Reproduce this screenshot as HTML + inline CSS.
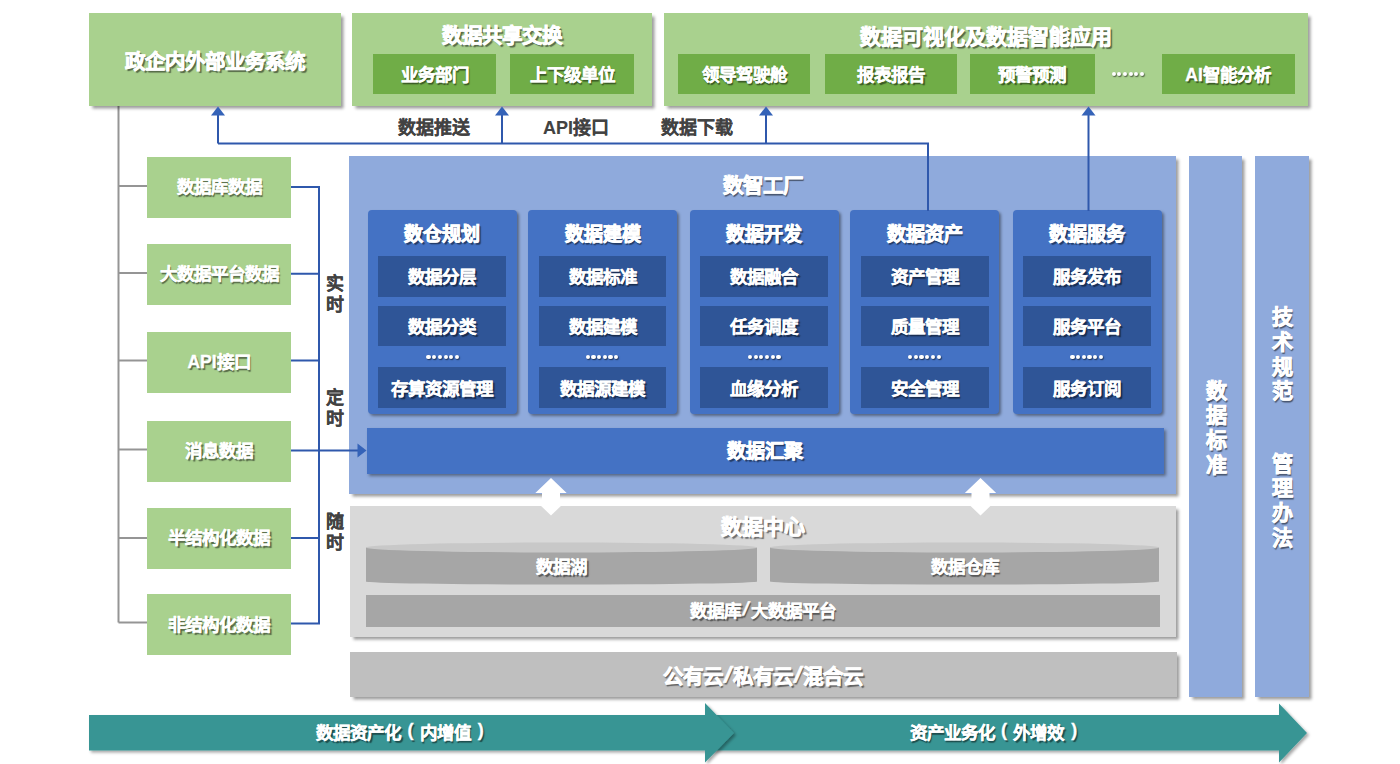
<!DOCTYPE html>
<html lang="zh-CN">
<head>
<meta charset="utf-8">
<style>
html,body{margin:0;padding:0;}
body{width:1400px;height:764px;position:relative;overflow:hidden;background:#fff;font-family:"Liberation Sans",sans-serif;font-weight:bold;}
.a{position:absolute;box-sizing:border-box;}
.c{display:flex;align-items:center;justify-content:center;white-space:nowrap;}
.w{color:#fff;text-shadow:1.5px 1.8px 1px rgba(0,0,0,0.5);-webkit-text-stroke:0.8px #fff;}
.sh{box-shadow:2.5px 2.5px 3px rgba(0,0,0,0.4);}
.lg{background:#A9D18E;}
.dg{background:#70AD47;}
.t20{font-size:20.5px;}
.t17{font-size:17.5px;-webkit-text-stroke-width:0.35px;padding-bottom:3px;}
.it.t17,.dg.t17{padding-bottom:1px;}
.t19{font-size:19px;}
.lbl{color:#424242;font-size:18px;-webkit-text-stroke:0.1px #424242;}
.col{background:#4472C4;border-radius:4px;box-shadow:2px 2px 3px rgba(0,0,0,0.4);}
.it{background:#2F5597;}
.sl1{display:inline-block;font-size:19px;padding:0 2.2px;transform:skewX(-14deg);}
.sl2{display:inline-block;font-size:22px;padding:0 2px;transform:skewX(-14deg);}
.p1{display:inline-block;width:18.5px;text-align:center;font-size:18px;position:relative;top:-1px;}
.p2{display:inline-block;width:13px;text-align:right;font-size:18px;position:relative;top:-1px;}
.vt{line-height:21px;text-align:center;}
.vt2{font-size:21px;line-height:24.7px;text-align:center;}
.dot{width:4.2px;height:4.2px;border-radius:50%;background:#fff;box-shadow:0.8px 1px 1.2px rgba(0,0,0,0.6);}
</style>
</head>
<body>
<!-- connectors (svg) -->
<svg class="a" style="left:0;top:0" width="1400" height="764">
  <g stroke="#959595" stroke-width="2" fill="none">
    <path d="M118.5 106 V622.5"/>
    <path d="M118.5 186 H147 M118.5 273 H147 M118.5 360.5 H147 M118.5 449.5 H147 M118.5 538 H147 M118.5 622.5 H147"/>
  </g>
</svg>

<!-- top green boxes -->
<div class="a lg sh c w t20" style="left:89px;top:13px;width:252px;height:93px;">政企内外部业务系统</div>
<div class="a lg sh" style="left:352px;top:13px;width:300px;height:93px;"></div>
<div class="a c w t20" style="left:352px;top:22px;width:300px;height:24px;">数据共享交换</div>
<div class="a dg c w t17" style="left:373px;top:53.8px;width:123px;height:40.4px;">业务部门</div>
<div class="a dg c w t17" style="left:510px;top:53.8px;width:124px;height:40.4px;">上下级单位</div>

<div class="a lg sh" style="left:664px;top:13px;width:644px;height:93px;"></div>
<div class="a c w t20" style="left:664px;top:23px;width:644px;height:24px;font-size:21px;">数据可视化及数据智能应用</div>
<div class="a dg c w t17" style="left:678px;top:53.8px;width:132px;height:40.4px;">领导驾驶舱</div>
<div class="a dg c w t17" style="left:825px;top:53.8px;width:132px;height:40.4px;">报表报告</div>
<div class="a dg c w t17" style="left:970px;top:53.8px;width:124.5px;height:40.4px;">预警预测</div>
<div class="a dg c w t17" style="left:1161.5px;top:53.8px;width:133px;height:40.4px;">AI智能分析</div>

<!-- left source boxes -->
<div class="a lg c w t17" style="left:147px;top:156.5px;width:144px;height:61px;">数据库数据</div>
<div class="a lg c w t17" style="left:147px;top:243.5px;width:144px;height:61px;">大数据平台数据</div>
<div class="a lg c w t17" style="left:147px;top:331.5px;width:144px;height:61px;">API接口</div>
<div class="a lg c w t17" style="left:147px;top:420.5px;width:144px;height:61px;">消息数据</div>
<div class="a lg c w t17" style="left:147px;top:507.5px;width:144px;height:61px;">半结构化数据</div>
<div class="a lg c w t17" style="left:147px;top:594px;width:144px;height:61px;">非结构化数据</div>

<!-- blue factory region -->
<div class="a sh" style="left:349px;top:155.5px;width:827px;height:338px;background:#8FAADC;"></div>
<div class="a c w t20" style="left:349px;top:172px;width:827px;height:24px;">数智工厂</div>

<div class="a col" style="left:367.5px;top:210.3px;width:149px;height:204px;"></div>
<div class="a c w t19" style="left:367.5px;top:220px;width:149px;height:24px;">数仓规划</div>
<div class="a it c w t17" style="left:378.25px;top:256px;width:127.5px;height:40.5px;">数据分层</div>
<div class="a it c w t17" style="left:378.25px;top:305.7px;width:127.5px;height:40.5px;">数据分类</div>
<div class="a it c w t17" style="left:378.25px;top:367px;width:127.5px;height:41px;">存算资源管理</div>
<div class="a col" style="left:528px;top:210.3px;width:149px;height:204px;"></div>
<div class="a c w t19" style="left:528px;top:220px;width:149px;height:24px;">数据建模</div>
<div class="a it c w t17" style="left:538.75px;top:256px;width:127.5px;height:40.5px;">数据标准</div>
<div class="a it c w t17" style="left:538.75px;top:305.7px;width:127.5px;height:40.5px;">数据建模</div>
<div class="a it c w t17" style="left:538.75px;top:367px;width:127.5px;height:41px;">数据源建模</div>
<div class="a col" style="left:689.7px;top:210.3px;width:149px;height:204px;"></div>
<div class="a c w t19" style="left:689.7px;top:220px;width:149px;height:24px;">数据开发</div>
<div class="a it c w t17" style="left:700.45px;top:256px;width:127.5px;height:40.5px;">数据融合</div>
<div class="a it c w t17" style="left:700.45px;top:305.7px;width:127.5px;height:40.5px;">任务调度</div>
<div class="a it c w t17" style="left:700.45px;top:367px;width:127.5px;height:41px;">血缘分析</div>
<div class="a col" style="left:850.3px;top:210.3px;width:149px;height:204px;"></div>
<div class="a c w t19" style="left:850.3px;top:220px;width:149px;height:24px;">数据资产</div>
<div class="a it c w t17" style="left:861.05px;top:256px;width:127.5px;height:40.5px;">资产管理</div>
<div class="a it c w t17" style="left:861.05px;top:305.7px;width:127.5px;height:40.5px;">质量管理</div>
<div class="a it c w t17" style="left:861.05px;top:367px;width:127.5px;height:41px;">安全管理</div>
<div class="a col" style="left:1012.5px;top:210.3px;width:149px;height:204px;"></div>
<div class="a c w t19" style="left:1012.5px;top:220px;width:149px;height:24px;">数据服务</div>
<div class="a it c w t17" style="left:1023.25px;top:256px;width:127.5px;height:40.5px;">服务发布</div>
<div class="a it c w t17" style="left:1023.25px;top:305.7px;width:127.5px;height:40.5px;">服务平台</div>
<div class="a it c w t17" style="left:1023.25px;top:367px;width:127.5px;height:41px;">服务订阅</div>
<div class="a dot" style="left:426.45px;top:354.70px;"></div>
<div class="a dot" style="left:432.15px;top:354.70px;"></div>
<div class="a dot" style="left:437.85px;top:354.70px;"></div>
<div class="a dot" style="left:443.55px;top:354.70px;"></div>
<div class="a dot" style="left:449.25px;top:354.70px;"></div>
<div class="a dot" style="left:454.95px;top:354.70px;"></div>
<div class="a dot" style="left:585.65px;top:354.70px;"></div>
<div class="a dot" style="left:591.35px;top:354.70px;"></div>
<div class="a dot" style="left:597.05px;top:354.70px;"></div>
<div class="a dot" style="left:602.75px;top:354.70px;"></div>
<div class="a dot" style="left:608.45px;top:354.70px;"></div>
<div class="a dot" style="left:614.15px;top:354.70px;"></div>
<div class="a dot" style="left:747.85px;top:354.70px;"></div>
<div class="a dot" style="left:753.55px;top:354.70px;"></div>
<div class="a dot" style="left:759.25px;top:354.70px;"></div>
<div class="a dot" style="left:764.95px;top:354.70px;"></div>
<div class="a dot" style="left:770.65px;top:354.70px;"></div>
<div class="a dot" style="left:776.35px;top:354.70px;"></div>
<div class="a dot" style="left:908.05px;top:354.70px;"></div>
<div class="a dot" style="left:913.75px;top:354.70px;"></div>
<div class="a dot" style="left:919.45px;top:354.70px;"></div>
<div class="a dot" style="left:925.15px;top:354.70px;"></div>
<div class="a dot" style="left:930.85px;top:354.70px;"></div>
<div class="a dot" style="left:936.55px;top:354.70px;"></div>
<div class="a dot" style="left:1070.35px;top:354.70px;"></div>
<div class="a dot" style="left:1076.05px;top:354.70px;"></div>
<div class="a dot" style="left:1081.75px;top:354.70px;"></div>
<div class="a dot" style="left:1087.45px;top:354.70px;"></div>
<div class="a dot" style="left:1093.15px;top:354.70px;"></div>
<div class="a dot" style="left:1098.85px;top:354.70px;"></div>
<div class="a dot" style="left:1111.55px;top:72.20px;"></div>
<div class="a dot" style="left:1117.21px;top:72.20px;"></div>
<div class="a dot" style="left:1122.87px;top:72.20px;"></div>
<div class="a dot" style="left:1128.53px;top:72.20px;"></div>
<div class="a dot" style="left:1134.19px;top:72.20px;"></div>
<div class="a dot" style="left:1139.85px;top:72.20px;"></div>
<!-- huiju bar -->
<div class="a c w t19" style="left:366.5px;top:428px;width:797px;height:46px;padding-bottom:3px;background:#4472C4;box-shadow:2px 2px 3px rgba(0,0,0,0.4);">数据汇聚</div>
<!-- gray data center -->
<div class="a sh" style="left:350px;top:506px;width:826px;height:131px;background:#D9D9D9;"></div>

<div class="a c w t20" style="left:350px;top:512.5px;width:826px;height:24px;font-size:21px;">数据中心</div>
<svg class="a" style="left:0;top:0" width="1400" height="764">
  <path d="M366 547.5 V581.5 A195.5 3 0 0 0 757 581.5 V547.5 Z" fill="#A6A6A6"/>
  <ellipse cx="561.5" cy="547.5" rx="195.5" ry="5" fill="#C8C8C8"/>
  <path d="M770 547.5 V581.5 A194.5 3 0 0 0 1159 581.5 V547.5 Z" fill="#A6A6A6"/>
  <ellipse cx="964.5" cy="547.5" rx="194.5" ry="5" fill="#C8C8C8"/>
</svg>
<div class="a c w t17" style="left:366px;top:555px;width:391px;height:24px;">数据湖</div>
<div class="a c w t17" style="left:770px;top:555px;width:389px;height:24px;">数据仓库</div>
<div class="a c w t17" style="left:366px;top:594.5px;width:794px;height:32.5px;background:#A6A6A6;">数据库<span class="sl1">/</span>大数据平台</div>
<!-- cloud -->
<div class="a sh c w t20" style="left:349.5px;top:652px;width:827px;height:45px;background:#BFBFBF;">公有云<span class="sl2">/</span>私有云<span class="sl2">/</span>混合云</div>

<!-- right vertical columns -->
<div class="a sh" style="left:1189.2px;top:155.5px;width:52.8px;height:541.5px;background:#8FAADC;"></div>
<div class="a sh" style="left:1255px;top:155.5px;width:54.4px;height:541.5px;background:#8FAADC;"></div>

<svg class="a" style="left:0;top:0" width="1400" height="764">
  <g stroke="#2F58AC" stroke-width="2" fill="none">
    <path d="M218 143.5 H928 V211"/>
    <path d="M218 143.5 V114"/>
    <path d="M502 143.5 V114"/>
    <path d="M766 143.5 V114"/>
    <path d="M1088.5 211 V114"/>
    <path d="M291 187 H319 V623.5 H291"/>
    <path d="M291 273.7 H319 M291 360.5 H319 M291 538 H319"/>
    <path d="M291 450.5 H359"/>
  </g>
  <g fill="#3563B8">
    <path d="M211 115.5 L218 106.5 L225 115.5 Z"/>
    <path d="M495 115.5 L502 106.5 L509 115.5 Z"/>
    <path d="M759 115.5 L766 106.5 L773 115.5 Z"/>
    <path d="M1081.5 115.5 L1088.5 106.5 L1095.5 115.5 Z"/>
    <path d="M357.5 443.5 L366.5 450.5 L357.5 457.5 Z"/>
  </g>
</svg>
<div class="a c lbl" style="left:389px;top:114px;width:90px;height:24px;">数据推送</div>
<div class="a c lbl" style="left:536px;top:114px;width:80px;height:24px;">API接口</div>
<div class="a c lbl" style="left:652px;top:114px;width:90px;height:24px;">数据下载</div>
<div class="a lbl vt" style="left:325px;top:274px;width:20px;">实<br>时</div>
<div class="a lbl vt" style="left:325px;top:388px;width:20px;">定<br>时</div>
<div class="a lbl vt" style="left:325px;top:511.5px;width:20px;">随<br>时</div>
<!-- double arrows -->
<svg class="a" style="left:0;top:0" width="1400" height="764">
  <path d="M551 478 L566.7 493 L560 493 L560 500.5 L566.7 500.5 L551 515.5 L535.3 500.5 L542 500.5 L542 493 L535.3 493 Z" fill="#fff"/>
  <path d="M980.5 478 L996.2 493 L989.5 493 L989.5 500.5 L996.2 500.5 L980.5 515.5 L964.8 500.5 L971.5 500.5 L971.5 493 L964.8 493 Z" fill="#fff"/>
</svg>
<!-- vertical texts right -->
<div class="a w vt2" style="left:1189px;top:378.5px;width:54px;">数<br>据<br>标<br>准</div>
<div class="a w vt2" style="left:1255px;top:305.2px;width:54.5px;">技<br>术<br>规<br>范</div>
<div class="a w vt2" style="left:1255px;top:451.7px;width:54.5px;">管<br>理<br>办<br>法</div>
<!-- teal arrows -->
<svg class="a" style="left:0;top:0" width="1400" height="764">
  <defs><filter id="fs" x="-5%" y="-30%" width="110%" height="160%"><feDropShadow dx="2" dy="2" stdDeviation="1.5" flood-color="#000" flood-opacity="0.35"/></filter></defs>
  <path d="M705 715 H1279 V703.5 L1307 733 L1279 762.5 V750.5 H705 Z" fill="#399594" filter="url(#fs)"/>
  <path d="M89 715 H705 V703 L734 733 L705 762.5 V750.5 H89 Z" fill="#399594" filter="url(#fs)"/>
</svg>
<div class="a c w t17" style="left:90px;top:721px;width:620px;height:24px;">数据资产化<span class="p1">(</span>内增值<span class="p2">)</span></div>
<div class="a c w t17" style="left:721px;top:721px;width:545px;height:24px;">资产业务化<span class="p1">(</span>外增效<span class="p2">)</span></div>

</body>
</html>
